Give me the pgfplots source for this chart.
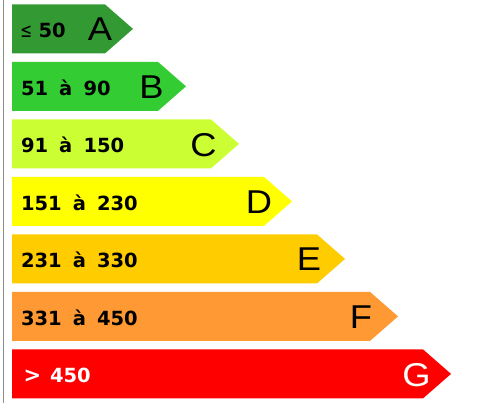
\documentclass[border=0pt]{standalone}
\usepackage{pgfplots}
\pgfplotsset{compat=1.18}
\usepackage{fontspec}
\setmainfont{DejaVu Sans}
\newfontfamily\letterfont{Liberation Sans}
\newfontfamily\symfont{DejaVu Sans}
\definecolor{cA}{RGB}{51,153,51}
\definecolor{cB}{RGB}{51,204,51}
\definecolor{cC}{RGB}{204,255,51}
\definecolor{cD}{RGB}{255,255,0}
\definecolor{cE}{RGB}{255,204,0}
\definecolor{cF}{RGB}{255,153,51}
\definecolor{cG}{RGB}{255,0,0}
\tikzset{lab/.style={anchor=base west,inner sep=0pt,outer sep=0pt,font=\fontsize{19.5}{22}\selectfont\bfseries},
         let/.style={anchor=center,inner sep=0pt,outer sep=0pt,xscale=1.1,font=\letterfont\fontsize{33}{38}\selectfont}}
% one range label: y, x of 'à', x of second number, first number, second number
\newcommand{\rng}[5]{%
  \node[lab] at (axis cs:21,#1) {#4};
  \node[lab] at (axis cs:#2,#1) {à};
  \node[lab] at (axis cs:#3,#1) {#5};}
\begin{document}
\begin{tikzpicture}
\begin{axis}[x=1pt,y=1pt,y dir=reverse,
  xmin=0,xmax=481,ymin=0,ymax=403,
  axis line style={draw=none},ticks=none,clip=false]
% left gray rule
\addplot[draw=gray!90,line width=0.8pt] coordinates {(3,0) (3,403)};
% arrows: (left,top) (rect end,top) (tip,mid) (rect end,bottom) (left,bottom)
\addplot[fill=cA,draw=none] coordinates {(12,4) (105,4) (133,28.5) (105,53) (12,53)} --cycle;
\addplot[fill=cB,draw=none] coordinates {(12,61.5) (158,61.5) (186,86) (158,110.5) (12,110.5)} --cycle;
\addplot[fill=cC,draw=none] coordinates {(12,119) (211,119) (239,143.5) (211,168) (12,168)} --cycle;
\addplot[fill=cD,draw=none] coordinates {(12,176.5) (264,176.5) (292,201) (264,225.5) (12,225.5)} --cycle;
\addplot[fill=cE,draw=none] coordinates {(12,234) (317,234) (345,258.5) (317,283) (12,283)} --cycle;
\addplot[fill=cF,draw=none] coordinates {(12,291.5) (370,291.5) (398,316) (370,340.5) (12,340.5)} --cycle;
\addplot[fill=cG,draw=none] coordinates {(12,349) (423,349) (451,373.5) (423,398) (12,398)} --cycle;
% range labels
\node[lab] at (axis cs:20.3,37.3) {{\symfont\mdseries\fontsize{20}{22}\selectfont\scalebox{0.7}[1]{≤}}};
\node[lab] at (axis cs:38.5,37.3) {50};
\rng{94.8}{59.2}{83.5}{51}{90}
\rng{152.3}{59.2}{83.5}{91}{150}
\rng{210.3}{72.8}{97.1}{151}{230}
\rng{267.5}{72.8}{97.1}{231}{330}
\rng{325}{72.8}{97.1}{331}{450}
\node[lab,text=white] at (axis cs:23.5,382.5) {\fontsize{21}{24}\selectfont >};
\node[lab,text=white] at (axis cs:50,382.5) {450};
% class letters
\node[let] at (axis cs:100,29) {A};
\node[let] at (axis cs:151.5,86.5) {B};
\node[let] at (axis cs:203.5,144.5) {C};
\node[let] at (axis cs:259,201.5) {D};
\node[let] at (axis cs:309,259) {E};
\node[let] at (axis cs:361,316.5) {F};
\node[let,text=white] at (axis cs:416.5,375) {G};
\end{axis}
\end{tikzpicture}
\end{document}
